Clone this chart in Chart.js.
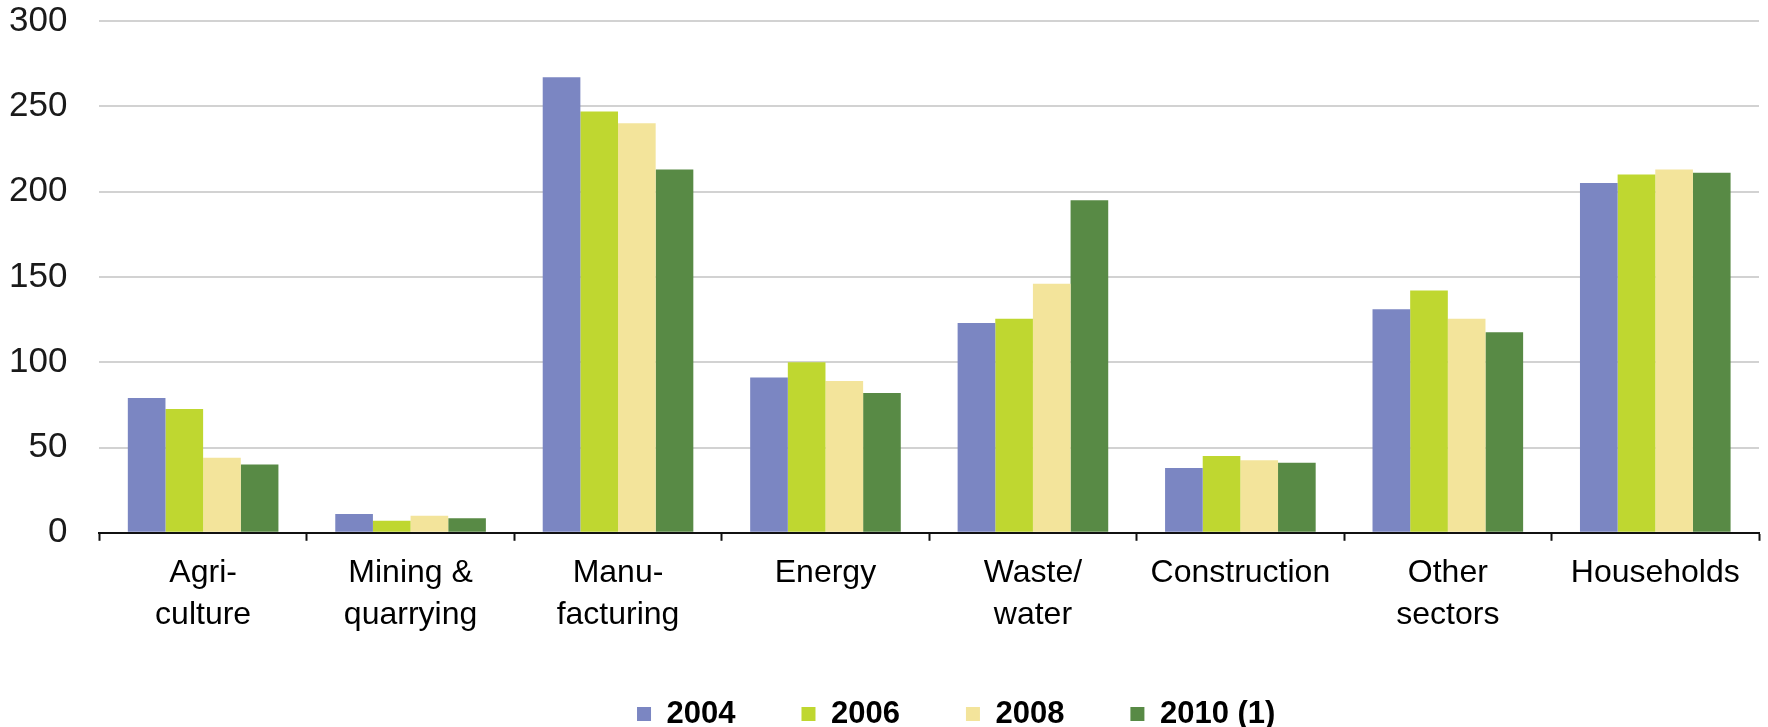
<!DOCTYPE html>
<html>
<head>
<meta charset="utf-8">
<script src="https://cdn.jsdelivr.net/npm/chart.js@4/dist/chart.umd.min.js"></script>
<style>
  html, body { margin: 0; padding: 0; background: #fff; }
  #wrap { width: 1768px; height: 727px; position: relative; }
</style>
</head>
<body>
<div id="wrap"><canvas id="chart-bar-1"></canvas></div>
<script>
// sectors, shown as two-line labels under the axis
var sectors = [
    ["Agri-", "culture"],
    ["Mining &", "quarrying"],
    ["Manu-", "facturing"],
    ["Energy"],
    ["Waste/", "water"],
    ["Construction"],
    ["Other", "sectors"],
    ["Households"]
];

var years = ["2004", "2006", "2008", "2010 (1)"];

var values2004 = [79, 11, 267, 91, 123, 38, 131, 205];
var values2006 = [72.5, 7, 247, 100, 125.5, 45, 142, 210];
var values2008 = [44, 10, 240, 89, 146, 42.5, 125.5, 213];
var values2010 = [40, 8.5, 213, 82, 195, 41, 117.5, 211];

var yTicks = [0, 50, 100, 150, 200, 250, 300];

var colors = ["#7b86c2", "#bfd730", "#f3e49b", "#588a45"];

var ctx1 = document.getElementById("chart-bar-1").getContext("2d");

// moves the legend row a little so it sits under the bars like the print layout
// (bottom stays at the canvas edge so the text isn't clipped)
var legendNudge = {
    id: 'legendNudge',
    afterLayout: function (chart) {
        var lg = chart.legend;
        lg.left += 27;
        lg.right += 27;
        lg.top -= 15.5;
        lg.bottom = chart.height;
    }
};

var series = [values2004, values2006, values2008, values2010];

new Chart(ctx1, {
    type: "bar",
    data: {
        labels: sectors,
        datasets: series.map(function (vals, i) {
            return {
                label: years[i],
                data: vals,
                backgroundColor: colors[i],
                borderWidth: 0,
                categoryPercentage: 0.726,
                barPercentage: 1.0,
            };
        }),
    },
    options: {
        responsive: true,
        maintainAspectRatio: false,
        animation: false,
        layout: {
            padding: { top: 21, right: 9, bottom: 0, left: 9 },
        },
        plugins: {
            legend: {
                display: true,
                position: 'bottom',
                fullSize: false,
                maxHeight: 79,
                labels: {
                    boxWidth: 14,
                    boxHeight: 14,
                    padding: 66,
                    color: '#000',
                    font: { size: 31, family: "'Liberation Sans', Arial, sans-serif", weight: 'bold' },
                },
            },
            tooltip: { enabled: false },
        },
        scales: {
            y: {
                min: 0,
                max: 300,
                afterBuildTicks: function (axis) {
                    axis.ticks = yTicks.map(function (v) { return { value: v }; });
                },
                border: { display: false },
                grid: {
                    display: true,
                    drawTicks: true,
                    tickLength: 32,
                    tickColor: 'rgba(0,0,0,0)',
                    color: '#d2d2d2',
                    lineWidth: 2,
                },
                ticks: {
                    padding: 0,
                    color: '#1a1a1a',
                    font: { size: 35, family: "'Liberation Sans', Arial, sans-serif" },
                },
            },
            x: {
                border: { display: true, color: '#111', width: 2 },
                grid: {
                    display: true,
                    offset: true,
                    drawOnChartArea: false,
                    drawTicks: true,
                    tickLength: 8,
                    tickWidth: 2,
                    color: '#111',
                },
                ticks: {
                    padding: 12,
                    color: '#000',
                    maxRotation: 0,
                    autoSkip: false,
                    font: { size: 32, family: "'Liberation Sans', Arial, sans-serif", lineHeight: 1.3 },
                },
            },
        },
    },
    plugins: [legendNudge],
});
</script>
</body>
</html>
